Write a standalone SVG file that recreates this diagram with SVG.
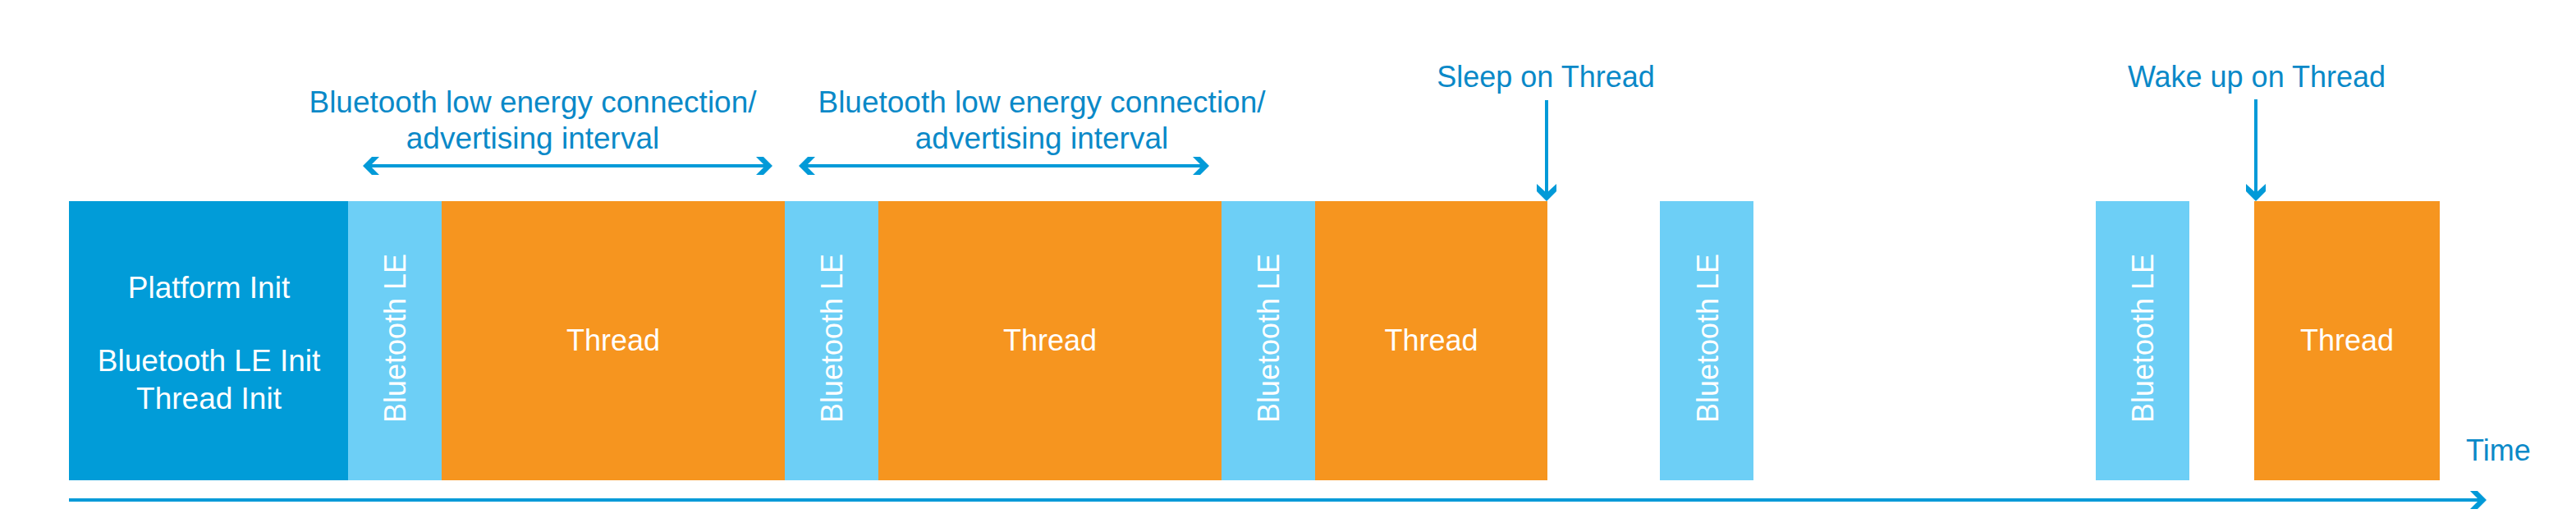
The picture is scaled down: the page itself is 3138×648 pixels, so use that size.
<svg xmlns="http://www.w3.org/2000/svg" width="3138" height="648" viewBox="0 0 3138 648">
<style>
text{font-family:"Liberation Sans",Arial,sans-serif;}
.lbl{fill:#0A89C8;font-size:36px;}
.ilbl{fill:#0A89C8;font-size:37px;text-anchor:middle;}
.wt{fill:#FFFFFF;font-size:36px;text-anchor:middle;}
.pt{fill:#FFFFFF;font-size:37px;text-anchor:middle;}
.plat{fill:#019CD8;}
.ble{fill:#6DCFF6;}
.thr{fill:#F6951F;}
.ln{stroke:#019AD8;stroke-width:4;fill:none;}
.hd{fill:#019AD8;}
</style>
<rect width="3138" height="648" fill="#FFFFFF"/>

<g id="platform-init">
<rect class="plat" x="84" y="245" width="340" height="340"/>
<text class="pt" x="254.5" y="363">Platform Init</text>
<text class="pt" x="254.5" y="452">Bluetooth LE Init</text>
<text class="pt" x="254.5" y="498">Thread Init</text>
</g>

<g id="ble-1">
<rect class="ble" x="424" y="245" width="114" height="340"/>
<text class="wt" transform="translate(494,412) rotate(-90)">Bluetooth LE</text>
</g>
<g id="thread-1">
<rect class="thr" x="538" y="245" width="418" height="340"/>
<text class="wt" x="747" y="427">Thread</text>
</g>
<g id="ble-2">
<rect class="ble" x="956" y="245" width="114" height="340"/>
<text class="wt" transform="translate(1026,412) rotate(-90)">Bluetooth LE</text>
</g>
<g id="thread-2">
<rect class="thr" x="1070" y="245" width="418" height="340"/>
<text class="wt" x="1279" y="427">Thread</text>
</g>
<g id="ble-3">
<rect class="ble" x="1488" y="245" width="114" height="340"/>
<text class="wt" transform="translate(1558,412) rotate(-90)">Bluetooth LE</text>
</g>
<g id="thread-3">
<rect class="thr" x="1602" y="245" width="283" height="340"/>
<text class="wt" x="1743.5" y="427">Thread</text>
</g>
<g id="ble-4">
<rect class="ble" x="2022" y="245" width="114" height="340"/>
<text class="wt" transform="translate(2093,412) rotate(-90)">Bluetooth LE</text>
</g>
<g id="ble-5">
<rect class="ble" x="2553" y="245" width="114" height="340"/>
<text class="wt" transform="translate(2623,412) rotate(-90)">Bluetooth LE</text>
</g>
<g id="thread-4">
<rect class="thr" x="2746" y="245" width="226" height="340"/>
<text class="wt" x="2859" y="427">Thread</text>
</g>

<g id="interval-label-1">
<text class="ilbl" x="649" y="137">Bluetooth low energy connection/</text>
<text class="ilbl" x="649" y="181">advertising interval</text>
</g>
<g id="interval-label-2">
<text class="ilbl" x="1269" y="137">Bluetooth low energy connection/</text>
<text class="ilbl" x="1269" y="181">advertising interval</text>
</g>
<g id="sleep-label">
<text class="lbl" x="1883" y="106" text-anchor="middle">Sleep on Thread</text>
</g>
<g id="wake-label">
<text class="lbl" x="2749" y="106" text-anchor="middle">Wake up on Thread</text>
</g>
<g id="time-label">
<text class="lbl" x="3004" y="561">Time</text>
</g>

<g id="connectors">
<!-- interval arrow 1 -->
<line class="ln" x1="446" y1="202" x2="937" y2="202"/>
<polygon class="hd" points="442,202 453,191 462,191 451,202 462,213 453,213"/>
<polygon class="hd" points="941,202 930,191 921,191 932,202 921,213 930,213"/>
<!-- interval arrow 2 -->
<line class="ln" x1="977" y1="202" x2="1469" y2="202"/>
<polygon class="hd" points="973,202 984,191 993,191 982,202 993,213 984,213"/>
<polygon class="hd" points="1473,202 1462,191 1453,191 1464,202 1453,213 1462,213"/>
<!-- sleep arrow -->
<line class="ln" x1="1884" y1="122" x2="1884" y2="240"/>
<polygon class="hd" points="1872,224 1884,235 1896,224 1896,233 1884,245 1872,233"/>
<!-- wake arrow -->
<line class="ln" x1="2748" y1="121" x2="2748" y2="240"/>
<polygon class="hd" points="2736,224 2748,235 2760,224 2760,233 2748,245 2736,233"/>
<!-- time axis -->
<line class="ln" x1="84" y1="609" x2="3025" y2="609"/>
<polygon class="hd" points="3029,609 3018,598 3009,598 3020,609 3009,620 3018,620"/>
</g>
</svg>
